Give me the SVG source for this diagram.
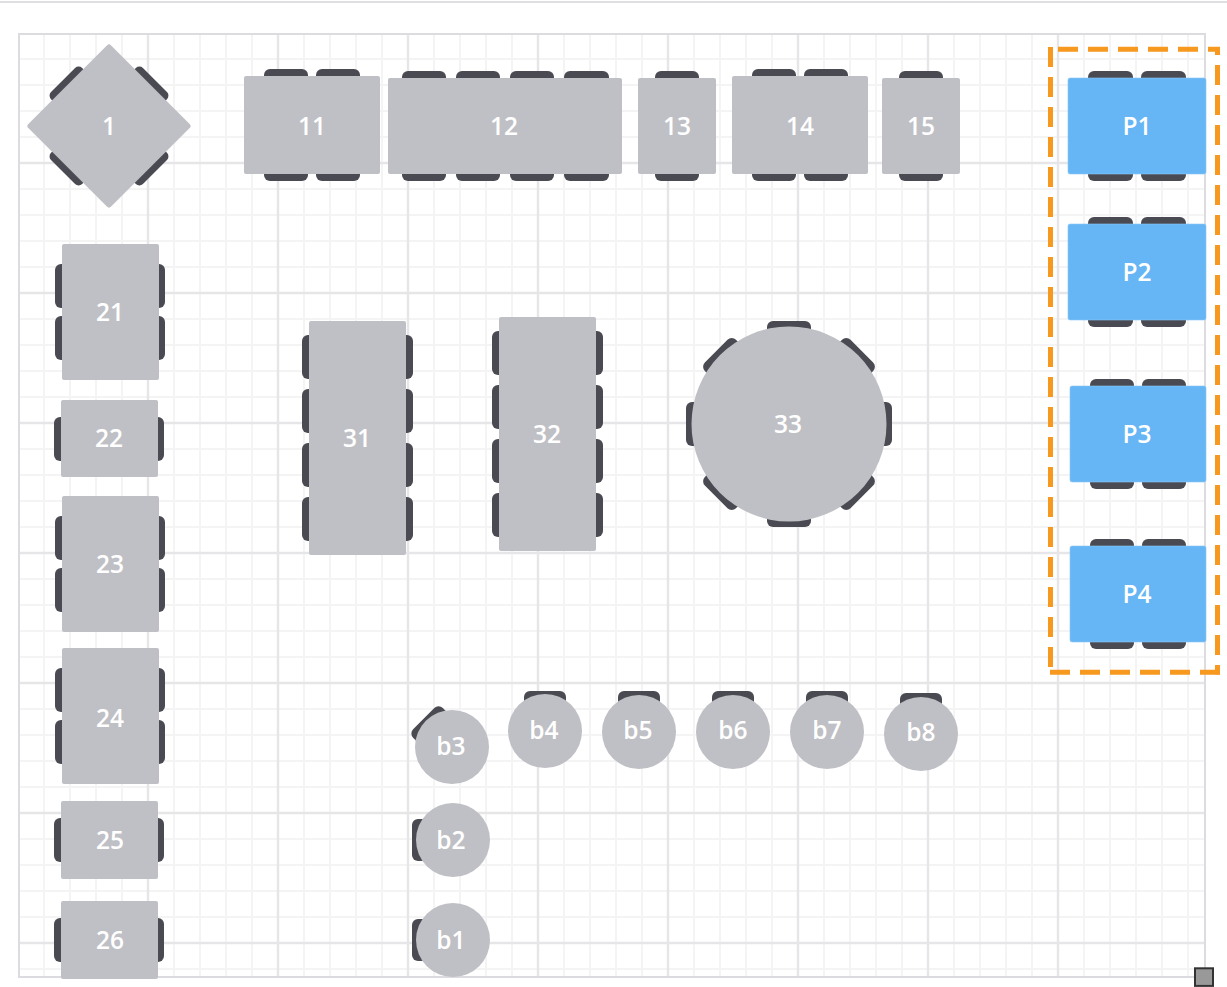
<svg xmlns="http://www.w3.org/2000/svg" width="1227" height="987" viewBox="0 0 1227 987">
<style>
text{font-family:"Open Sans","Noto Sans",sans-serif;font-size:24.5px;font-weight:600;fill:#fff;text-anchor:middle}
.t{fill:#bfc0c5}
.p{fill:#66b5f5;stroke:#8cc8f7;stroke-width:.6}
.c{fill:#4a4a52}
</style>
<rect width="1227" height="987" fill="#fff"/>
<path d="M0 2H1227" stroke="#dfdfe3" stroke-width="2"/>
<g id="grid" fill="none">
<path stroke="#f4f4f5" stroke-width="2" d="M44 34V977M70 34V977M96 34V977M122 34V977M174 34V977M200 34V977M226 34V977M252 34V977M304 34V977M330 34V977M356 34V977M382 34V977M434 34V977M460 34V977M486 34V977M512 34V977M564 34V977M590 34V977M616 34V977M642 34V977M694 34V977M720 34V977M746 34V977M772 34V977M824 34V977M850 34V977M876 34V977M902 34V977M954 34V977M980 34V977M1006 34V977M1032 34V977M1084 34V977M1110 34V977M1136 34V977M1162 34V977M1188 34V977M19 59H1205M19 85H1205M19 111H1205M19 137H1205M19 189H1205M19 215H1205M19 241H1205M19 267H1205M19 319H1205M19 345H1205M19 371H1205M19 397H1205M19 449H1205M19 475H1205M19 501H1205M19 527H1205M19 579H1205M19 605H1205M19 631H1205M19 657H1205M19 709H1205M19 735H1205M19 761H1205M19 787H1205M19 839H1205M19 865H1205M19 891H1205M19 917H1205M19 969H1205"/>
<path stroke="#e6e6e8" stroke-width="2.4" d="M148 34V977M278 34V977M408 34V977M538 34V977M668 34V977M798 34V977M928 34V977M1058 34V977M19 163H1205M19 293H1205M19 423H1205M19 553H1205M19 683H1205M19 813H1205M19 943H1205"/>
<rect x="19" y="34" width="1186" height="943" stroke="#dcdce0" stroke-width="2"/>
</g>
<g id="connectors"/>
<g id="t1">
<rect class="c" x="87" y="61" width="44" height="30" rx="5" transform="rotate(-45 109 126)"/>
<rect class="c" x="87" y="61" width="44" height="30" rx="5" transform="rotate(45 109 126)"/>
<rect class="c" x="87" y="61" width="44" height="30" rx="5" transform="rotate(135 109 126)"/>
<rect class="c" x="87" y="61" width="44" height="30" rx="5" transform="rotate(225 109 126)"/>
<rect class="t" x="50.5" y="67.5" width="117" height="117" rx="3" transform="rotate(45 109 126)"/>
<text x="109" y="135">1</text>
</g>
<g id="t11"><rect class="c" x="264" y="69" width="44" height="112" rx="6"/><rect class="c" x="316" y="69" width="44" height="112" rx="6"/><rect class="t" x="244" y="76" width="136" height="98" rx="2"/><text x="312" y="135">11</text></g>
<g id="t12"><rect class="c" x="402" y="71" width="44" height="110" rx="6"/><rect class="c" x="456" y="71" width="44" height="110" rx="6"/><rect class="c" x="510" y="71" width="44" height="110" rx="6"/><rect class="c" x="564" y="71" width="45" height="110" rx="6"/><rect class="t" x="388" y="78" width="234" height="96" rx="2"/><text x="504" y="135">12</text></g>
<g id="t13"><rect class="c" x="655" y="71" width="44" height="110" rx="6"/><rect class="t" x="638" y="78" width="78" height="96" rx="2"/><text x="677" y="135">13</text></g>
<g id="t14"><rect class="c" x="752" y="69" width="44" height="112" rx="6"/><rect class="c" x="804" y="69" width="44" height="112" rx="6"/><rect class="t" x="732" y="76" width="136" height="98" rx="2"/><text x="800" y="135">14</text></g>
<g id="t15"><rect class="c" x="899" y="71" width="44" height="110" rx="6"/><rect class="t" x="882" y="78" width="78" height="96" rx="2"/><text x="921" y="135">15</text></g>
<g id="tP1"><rect class="c" x="1088" y="71" width="45" height="110" rx="6"/><rect class="c" x="1141" y="71" width="45" height="110" rx="6"/><rect class="p" x="1068" y="78" width="138" height="96" rx="2"/><text x="1137" y="135">P1</text></g>
<g id="tP2"><rect class="c" x="1088" y="217" width="45" height="110" rx="6"/><rect class="c" x="1141" y="217" width="45" height="110" rx="6"/><rect class="p" x="1068" y="224" width="138" height="96" rx="2"/><text x="1137" y="281">P2</text></g>
<g id="tP3"><rect class="c" x="1090" y="379" width="44" height="110" rx="6"/><rect class="c" x="1142" y="379" width="44" height="110" rx="6"/><rect class="p" x="1070" y="386" width="136" height="96" rx="2"/><text x="1137" y="443">P3</text></g>
<g id="tP4"><rect class="c" x="1090" y="539" width="44" height="110" rx="6"/><rect class="c" x="1142" y="539" width="44" height="110" rx="6"/><rect class="p" x="1070" y="546" width="136" height="96" rx="2"/><text x="1137" y="603">P4</text></g>
<g id="t21"><rect class="c" x="55" y="264" width="110" height="44" rx="6"/><rect class="c" x="55" y="316" width="110" height="44" rx="6"/><rect class="t" x="62" y="244" width="97" height="136" rx="2"/><text x="110" y="321">21</text></g>
<g id="t22"><rect class="c" x="54" y="417" width="110" height="44" rx="6"/><rect class="t" x="61" y="400" width="97" height="77" rx="2"/><text x="109" y="447">22</text></g>
<g id="t23"><rect class="c" x="55" y="516" width="110" height="44" rx="6"/><rect class="c" x="55" y="568" width="110" height="44" rx="6"/><rect class="t" x="62" y="496" width="97" height="136" rx="2"/><text x="110" y="573">23</text></g>
<g id="t24"><rect class="c" x="55" y="668" width="110" height="44" rx="6"/><rect class="c" x="55" y="720" width="110" height="44" rx="6"/><rect class="t" x="62" y="648" width="97" height="136" rx="2"/><text x="110" y="727">24</text></g>
<g id="t25"><rect class="c" x="54" y="818" width="110" height="44" rx="6"/><rect class="t" x="61" y="801" width="97" height="78" rx="2"/><text x="110" y="849">25</text></g>
<g id="t26"><rect class="c" x="54" y="918" width="110" height="44" rx="6"/><rect class="t" x="61" y="901" width="97" height="78" rx="2"/><text x="110" y="949">26</text></g>
<g id="t31"><rect class="c" x="302" y="335" width="111" height="44" rx="6"/><rect class="c" x="302" y="389" width="111" height="44" rx="6"/><rect class="c" x="302" y="443" width="111" height="44" rx="6"/><rect class="c" x="302" y="497" width="111" height="44" rx="6"/><rect class="t" x="309" y="321" width="97" height="234" rx="2"/><text x="357" y="447">31</text></g>
<g id="t32"><rect class="c" x="492" y="331" width="111" height="44" rx="6"/><rect class="c" x="492" y="385" width="111" height="44" rx="6"/><rect class="c" x="492" y="439" width="111" height="44" rx="6"/><rect class="c" x="492" y="493" width="111" height="44" rx="6"/><rect class="t" x="499" y="317" width="97" height="234" rx="2"/><text x="547" y="443">32</text></g>
<g id="t33">
<rect class="c" x="767" y="321" width="44" height="206" rx="6"/>
<rect class="c" x="686" y="402" width="206" height="44" rx="6"/>
<rect class="c" x="767" y="321" width="44" height="206" rx="6" transform="rotate(45 789 424)"/>
<rect class="c" x="767" y="321" width="44" height="206" rx="6" transform="rotate(-45 789 424)"/>
<circle class="t" cx="789" cy="424" r="97.5"/><text x="788" y="433">33</text></g>
<g id="b1"><rect class="c" x="412" y="919" width="44" height="42" rx="6"/><circle class="t" cx="453" cy="940" r="37"/><text x="451" y="949">b1</text></g>
<g id="b2"><rect class="c" x="412" y="819" width="44" height="42" rx="6"/><circle class="t" cx="453" cy="840" r="37"/><text x="451" y="849">b2</text></g>
<g id="b3"><rect class="c" x="431" y="707" width="42" height="44" rx="6" transform="rotate(-45 452 747)"/><circle class="t" cx="452" cy="747" r="37"/><text x="451" y="755">b3</text></g>
<g id="b4"><rect class="c" x="524" y="691" width="42" height="44" rx="6"/><circle class="t" cx="545" cy="731" r="37"/><text x="544" y="739">b4</text></g>
<g id="b5"><rect class="c" x="618" y="691" width="42" height="44" rx="6"/><circle class="t" cx="639" cy="732" r="37"/><text x="638" y="739">b5</text></g>
<g id="b6"><rect class="c" x="712" y="691" width="42" height="44" rx="6"/><circle class="t" cx="733" cy="732" r="37"/><text x="733" y="739">b6</text></g>
<g id="b7"><rect class="c" x="806" y="691" width="42" height="44" rx="6"/><circle class="t" cx="827" cy="732" r="37"/><text x="827" y="739">b7</text></g>
<g id="b8"><rect class="c" x="900" y="693" width="42" height="44" rx="6"/><circle class="t" cx="921" cy="734" r="37"/><text x="921" y="741">b8</text></g>
<g id="selection" fill="none" stroke="#f7981f" stroke-width="5" stroke-dasharray="20 10">
<path d="M1058 49.3H1220"/>
<path stroke-dashoffset="12" d="M1217.5 47V674.5"/>
<path d="M1050.5 47V672"/>
<path d="M1050 672.3H1220"/>
</g>
<rect id="handle" x="1195" y="968.3" width="18" height="17.6" fill="#999" stroke="#333" stroke-width="2"/>
</svg>
